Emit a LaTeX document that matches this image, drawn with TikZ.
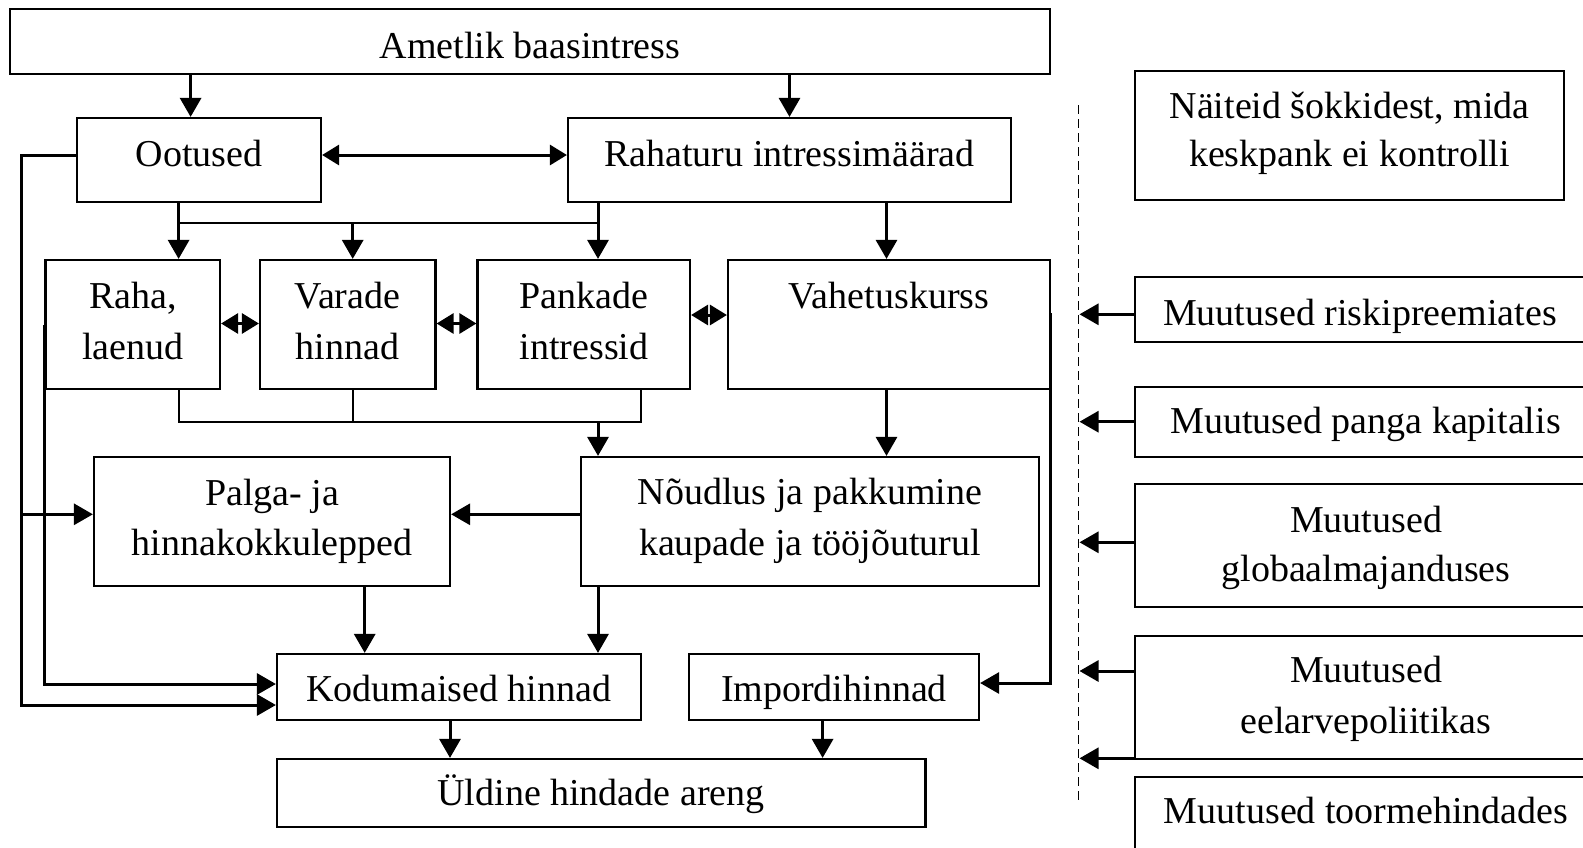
\documentclass[tikz,border=0pt]{standalone}
\usepackage{fontspec}
\setmainfont{Liberation Serif}
\usetikzlibrary{arrows.meta}
\newcommand\boxat[5]{\node[box,minimum width={(#4-#2)*1pt},minimum height={(#5-#3)*1pt}] (#1) at ({(#2+#4)/2},{(#3+#5)/2}) {};}
\newcommand\lblat[4]{\node[lbl] (#1) at (#2,#3) {#4};}
\begin{document}
\begin{tikzpicture}[x=1pt,y=-1pt,
  box/.style={draw,line width=2.2pt,inner sep=0pt,rectangle},
  lbl/.style={anchor=base,inner sep=0pt,font=\fontsize{38}{50}\selectfont},
  arr/.style={line width=3pt,-{Triangle[length=19pt,width=21pt]}},
  dbl/.style={line width=3pt,{Triangle[length=17pt,width=20pt]}-{Triangle[length=17pt,width=20pt]}},
  ln/.style={line width=2.2pt},
  sepline/.style={line width=1.6pt,dash pattern=on 9pt off 5pt}]
\useasboundingbox (0,0) rectangle (1583,847);
\clip (0,0) rectangle (1583,847);
% boxes
\boxat{amet}{10}{9}{1050}{74}
\boxat{oot}{77}{118}{321}{202}
\boxat{rt}{568}{118}{1011}{202}
\boxat{raha}{45.5}{260}{220}{389}
\boxat{var}{260}{260}{435.5}{389}
\boxat{pank}{477.5}{260}{690}{389}
\boxat{vah}{728}{260}{1050}{389}
\boxat{palga}{94}{457}{450}{586}
\boxat{nou}{581}{457}{1039}{586}
\boxat{kodu}{277}{654}{640.6}{720}
\boxat{imp}{689}{654}{979}{720}
\boxat{uld}{277}{759}{925.4}{827}
\boxat{nait}{1135}{71}{1564}{200}
\boxat{riski}{1135}{277}{1597}{342.3}
\boxat{panga}{1135}{386.7}{1597}{457.3}
\boxat{glob}{1135}{484.3}{1597}{606.7}
\boxat{eel}{1135}{635.7}{1597}{759.3}
\boxat{toor}{1135}{777}{1597}{852}
% labels
\lblat{tAmet}{530}{58.3}{Ametlik baasintress}
\lblat{tOot}{199}{166.7}{Ootused}
\lblat{tRt}{789.5}{166.7}{Rahaturu intressimäärad}
\lblat{tRaha1}{132.8}{308.3}{Raha,}
\lblat{tRaha2}{132.8}{359}{laenud}
\lblat{tVar1}{347.5}{308.3}{Varade}
\lblat{tVar2}{347.5}{359}{hinnad}
\lblat{tPank1}{584}{308.3}{Pankade}
\lblat{tPank2}{584}{359}{intressid}
\lblat{tVah}{889}{308.3}{Vahetuskurss}
\lblat{tPalga1}{272}{505}{Palga- ja}
\lblat{tPalga2}{272}{555}{hinnakokkulepped}
\lblat{tNou1}{810}{504.5}{Nõudlus ja pakkumine}
\lblat{tNou2}{810}{555}{kaupade ja tööjõuturul}
\lblat{tKodu}{458.8}{701.7}{Kodumaised hinnad}
\lblat{tImp}{834}{701.7}{Impordihinnad}
\lblat{tUld}{601}{805}{Üldine hindade areng}
\lblat{tNait1}{1349.5}{118.3}{Näiteid šokkidest, mida}
\lblat{tNait2}{1349.5}{166.7}{keskpank ei kontrolli}
\lblat{tRiski}{1360}{325}{Muutused riskipreemiates}
\lblat{tPanga}{1365.5}{433.3}{Muutused panga kapitalis}
\lblat{tGlob1}{1366}{532}{Muutused}
\lblat{tGlob2}{1366}{581.7}{globaalmajanduses}
\lblat{tEel1}{1366}{682.7}{Muutused}
\lblat{tEel2}{1366}{733.3}{eelarvepoliitikas}
\lblat{tToor}{1366}{823.3}{Muutused toormehindades}
% helper coordinates
\coordinate (xAO) at (190.6,0);
\coordinate (xOb) at (178.6,0);
\coordinate (xV) at (352.7,0);
\coordinate (xR) at (598,0);
\coordinate (xE) at (886.5,0);
\coordinate (xPb) at (640.6,0);
\coordinate (xPK) at (364.7,0);
\coordinate (xKU) at (450,0);
\coordinate (xIU) at (822.6,0);
\coordinate (busT) at (178.6,222.7);
\coordinate (busTR) at (598,222.7);
\coordinate (busTV) at (352.7,222.7);
\coordinate (busBL) at (178.6,422);
\coordinate (busBR) at (640.6,422);
\coordinate (busBM) at (598,422);
\coordinate (lOut) at (21.4,155);
\coordinate (lOutB) at (21.4,705);
\coordinate (lOutM) at (21.4,514.3);
\coordinate (vahR) at (1050,313);
\coordinate (vahRB) at (1050,683);
\coordinate (dTop) at (1078.4,105);
\coordinate (dBot) at (1078.4,803);
\coordinate (xTip) at (1079.5,0);
% connectors top
\draw[arr] (amet.south -| xAO) -- (oot.north -| xAO);
\draw[arr] (amet.south -| rt) -- (rt.north);
\draw[dbl] (oot.east |- lOut) -- (rt.west |- lOut);
\draw[ln] (busT) -- (busTR);
\draw[arr] (oot.south -| xOb) -- (raha.north -| xOb);
\draw[arr] (busTV) -- (var.north -| xV);
\draw[arr] (rt.south -| xR) -- (pank.north -| xR);
\draw[arr] (rt.south -| xE) -- (vah.north -| xE);
% double arrows
\coordinate (yD1) at (0,323.5);
\coordinate (yD2) at (0,315);
\draw[dbl] (raha.east |- yD1) -- (var.west |- yD1);
\draw[dbl] (var.east |- yD1) -- (pank.west |- yD1);
\draw[dbl] (pank.east |- yD2) -- (vah.west |- yD2);
% bottom bus
\draw[ln] (raha.south -| xOb) -- (busBL) -- (busBR) -- (pank.south -| xPb);
\draw[ln] (var.south -| xV) -- (busBL -| xV);
\draw[arr] (busBM) -- (nou.north -| xR);
\draw[arr] (vah.south -| xE) -- (nou.north -| xE);
% middle
\draw[arr] (nou.west |- lOutM) -- (palga.east |- lOutM);
\draw[arr] (palga.south -| xPK) -- (kodu.north -| xPK);
\draw[arr] (nou.south -| xR) -- (kodu.north -| xR);
\draw[arr] (kodu.south -| xKU) -- (uld.north -| xKU);
\draw[arr] (imp.south -| xIU) -- (uld.north -| xIU);
\draw[arr] (vahR) -- (vahRB) -- (imp.east |- vahRB);
% left feedback lines
\draw[arr] (oot.west |- lOut) -- (lOut) -- (lOutB) -- (kodu.west |- lOutB);
\draw[arr] (lOutM) -- (palga.west |- lOutM);
\coordinate (yK1) at (0,684);
\draw[arr] (raha.west) |- (kodu.west |- yK1);
% dashed separator and shocks
\draw[sepline] (dTop) -- (dBot);
\coordinate (yS1) at (0,314.3);
\coordinate (yS2) at (0,421.7);
\coordinate (yS3) at (0,542.3);
\coordinate (yS4) at (0,671);
\coordinate (yS5) at (0,758.3);
\draw[arr] (riski.west |- yS1) -- (xTip |- yS1);
\draw[arr] (panga.west |- yS2) -- (xTip |- yS2);
\draw[arr] (glob.west |- yS3) -- (xTip |- yS3);
\draw[arr] (eel.west |- yS4) -- (xTip |- yS4);
\draw[arr] (eel.west |- yS5) -- (xTip |- yS5);
\end{tikzpicture}
\end{document}
